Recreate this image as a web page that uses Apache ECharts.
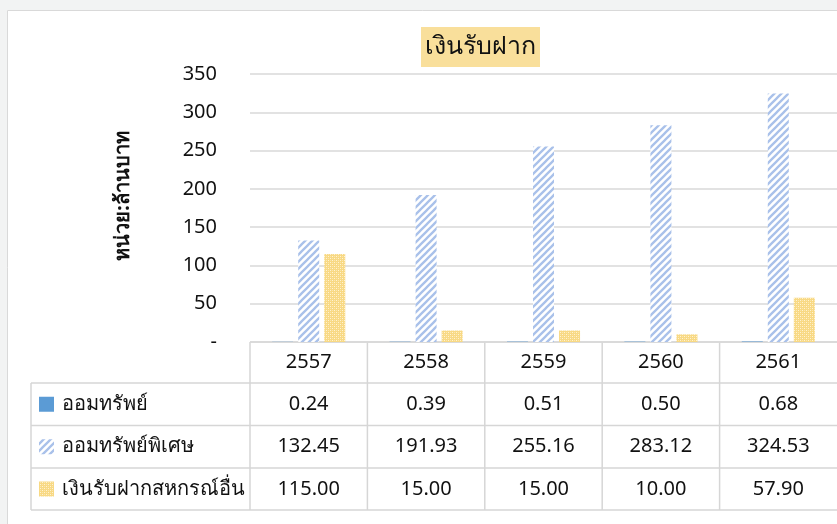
<!DOCTYPE html>
<html><head><meta charset="utf-8">
<script src="https://cdn.jsdelivr.net/npm/echarts@6/dist/echarts.min.js"></script>
<style>html,body{margin:0;padding:0;background:#fff;}#c{width:837px;height:524px;}</style>
</head><body><div id="c"></div>
<script>
// ---- data ----
const chartTitle = 'เงินรับฝาก';
const yAxisTitle = 'หน่วย:ล้านบาท';
const years = ['2557', '2558', '2559', '2560', '2561'];
const seriesNames = ['ออมทรัพย์', 'ออมทรัพย์พิเศษ', 'เงินรับฝากสหกรณ์อื่น'];
const savings = [0.24, 0.39, 0.51, 0.50, 0.68];
const specialSavings = [132.45, 191.93, 255.16, 283.12, 324.53];
const otherCoopDeposits = [115.00, 15.00, 15.00, 10.00, 57.90];
const yMin = 0, yMax = 350, yStep = 50;

// ---- patterns ----
function hatchPattern() {
  const p = 7, c = document.createElement('canvas');
  c.width = c.height = p;
  const g = c.getContext('2d');
  g.fillStyle = '#ffffff'; g.fillRect(0, 0, p, p);
  g.strokeStyle = '#a9c1ea'; g.lineWidth = 2.3;
  g.beginPath();
  g.moveTo(-1, p + 1); g.lineTo(p + 1, -1);
  g.moveTo(-1, 1); g.lineTo(1, -1);
  g.moveTo(p - 1, p + 1); g.lineTo(p + 1, p - 1);
  g.stroke();
  return { image: c, repeat: 'repeat' };
}
function checkPattern() {
  const c = document.createElement('canvas');
  c.width = c.height = 4;
  const g = c.getContext('2d');
  g.fillStyle = '#f8d984'; g.fillRect(0, 0, 4, 4);
  g.fillStyle = '#fff3d2'; g.fillRect(0, 0, 1, 1); g.fillRect(2, 2, 1, 1);
  g.fillStyle = '#fbe6ae'; g.fillRect(2, 0, 1, 1); g.fillRect(0, 2, 1, 1);
  return { image: c, repeat: 'repeat' };
}
const solidBlue = '#5b9bd5';
const hatch = hatchPattern();
const check = checkPattern();
const fills = [solidBlue, hatch, check];
const rows = [savings, specialSavings, otherCoopDeposits];

// ---- layout ----
const FONT = '"Noto Sans", "Open Sans", sans-serif';
const gridL = 250, gridT = 74, gridH = 268, W = 837;
const catW = (W - gridL) / years.length;
const tableTop = 342, rowYs = [383, 425.5, 468, 510], tableLeft = 31;
const lineColor = '#d6d6d6';

const graphics = [];
// outer frame
graphics.push({ type: 'rect', shape: { x: 0, y: 0, width: W, height: 10 }, style: { fill: '#f2f3f3' }, silent: true });
graphics.push({ type: 'rect', shape: { x: 0, y: 0, width: 7, height: 524 }, style: { fill: '#f2f3f3' }, silent: true });
graphics.push({ type: 'line', shape: { x1: 7.5, y1: 10.5, x2: W, y2: 10.5 }, style: { stroke: '#d9d9d9', lineWidth: 1 } });
graphics.push({ type: 'line', shape: { x1: 7.5, y1: 10.5, x2: 7.5, y2: 524 }, style: { stroke: '#d9d9d9', lineWidth: 1 } });
// title
graphics.push({ type: 'rect', shape: { x: 421, y: 27, width: 119, height: 40 }, style: { fill: '#f9df9b' } });
graphics.push({ type: 'text', x: 480.5, y: 47, style: { text: chartTitle, font: '25px ' + FONT, fill: '#111', textAlign: 'center', textVerticalAlign: 'middle' } });
// y axis title
graphics.push({ type: 'text', x: 123, y: 196, rotation: Math.PI / 2, style: { text: yAxisTitle, font: 'bold 20px ' + FONT, fill: '#111', textAlign: 'center', textVerticalAlign: 'middle' } });
// table lines
function hline(x1, x2, y) { graphics.push({ type: 'line', shape: { x1, y1: y, x2, y2: y }, style: { stroke: lineColor, lineWidth: 1.5 } }); }
function vline(x, y1, y2) { graphics.push({ type: 'line', shape: { x1: x, y1, x2: x, y2 }, style: { stroke: lineColor, lineWidth: 1.5 } }); }
hline(gridL, W, tableTop);
rowYs.forEach(y => hline(tableLeft, W, y));
vline(tableLeft, rowYs[0], rowYs[3]);
for (let i = 0; i < years.length; i++) vline(gridL + i * catW, tableTop, rowYs[3]);
// table rows
for (let r = 0; r < 3; r++) {
  const yc = (rowYs[r] + rowYs[r + 1]) / 2;
  graphics.push({ type: 'rect', shape: { x: 39, y: yc - 7.5, width: 15, height: 15 }, style: { fill: fills[r] } });
  graphics.push({ type: 'text', x: 62, y: yc, style: { text: seriesNames[r], font: '20px ' + FONT, fill: '#111', textAlign: 'left', textVerticalAlign: 'middle' } });
  for (let i = 0; i < years.length; i++) {
    graphics.push({ type: 'text', x: gridL + (i + 0.5) * catW, y: yc, style: { text: rows[r][i].toFixed(2), font: '20px ' + FONT, fill: '#111', textAlign: 'center', textVerticalAlign: 'middle' } });
  }
}

const chart = echarts.init(document.getElementById('c'), null, { renderer: 'canvas' });
chart.setOption({
  animation: false,
  backgroundColor: '#ffffff',
  grid: { left: gridL, top: gridT, height: gridH, right: 0 },
  xAxis: {
    type: 'category', data: years,
    axisLine: { show: false }, axisTick: { show: false },
    axisLabel: { margin: 10, fontSize: 20, color: '#111', fontFamily: FONT }
  },
  yAxis: {
    type: 'value', min: yMin, max: yMax, interval: yStep,
    axisLine: { show: false }, axisTick: { show: false },
    splitLine: { lineStyle: { color: '#d9d9d9', width: 1.5 } },
    axisLabel: { margin: 33, fontSize: 20, color: '#111', fontFamily: FONT, formatter: v => v === 0 ? '-' : String(v) }
  },
  series: [
    { name: seriesNames[0], type: 'bar', data: savings, barWidth: 21, barGap: '24%', itemStyle: { color: solidBlue } },
    { name: seriesNames[1], type: 'bar', data: specialSavings, barWidth: 21, barGap: '24%', itemStyle: { color: hatch } },
    { name: seriesNames[2], type: 'bar', data: otherCoopDeposits, barWidth: 21, barGap: '24%', itemStyle: { color: check } }
  ],
  graphic: { elements: graphics }
});
</script></body></html>
